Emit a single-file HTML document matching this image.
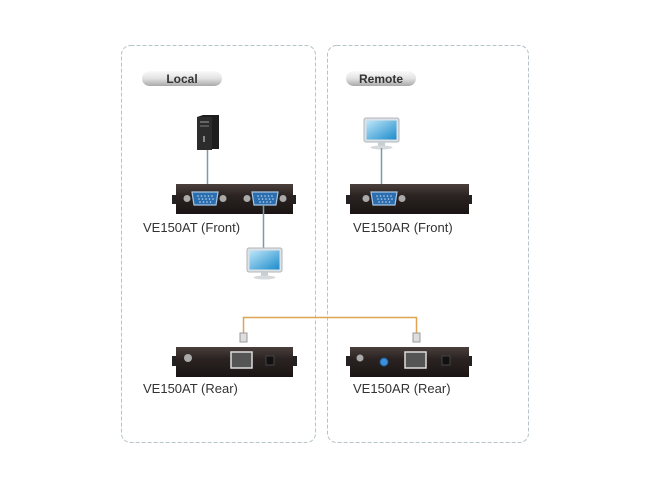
<!DOCTYPE html>
<html><head><style>
html,body{margin:0;padding:0;background:#fff;}
svg{display:block}
text{font-family:"Liberation Sans",sans-serif;}
</style></head><body>
<svg width="650" height="489" viewBox="0 0 650 489" xmlns="http://www.w3.org/2000/svg">
<defs>
<linearGradient id="pill" x1="0" y1="0" x2="0" y2="1"><stop offset="0" stop-color="#fafafa"/><stop offset="0.5" stop-color="#e2e2e2"/><stop offset="1" stop-color="#a8a8a8"/></linearGradient>
<linearGradient id="box" x1="0" y1="0" x2="0" y2="1"><stop offset="0" stop-color="#4a3f3b"/><stop offset="0.4" stop-color="#2a2322"/><stop offset="1" stop-color="#1a1514"/></linearGradient>
<linearGradient id="scr" x1="0" y1="0" x2="1" y2="1"><stop offset="0" stop-color="#bfe6f8"/><stop offset="1" stop-color="#1c8ccc"/></linearGradient>
<g id="mon"><rect x="0" y="0" width="35" height="24" rx="2" fill="#dde2e6" stroke="#b0b6bb"/><rect x="2.5" y="2.5" width="30" height="19" fill="url(#scr)"/><rect x="14" y="24" width="7" height="4" fill="#c8cdd1"/><ellipse cx="17.5" cy="29.5" rx="11" ry="2" fill="#d6dadd"/></g>
<g id="vga"><ellipse cx="0" cy="6.5" rx="3.5" ry="3.5" fill="#aaa"/><ellipse cx="36" cy="6.5" rx="3.5" ry="3.5" fill="#aaa"/><path d="M5 0 H31 L29 13 H7 Z" fill="#2b6eb0" stroke="#a7c4e0" stroke-width="1.2"/><g fill="#bcd4ea"><circle cx="11" cy="4" r=".8"/><circle cx="14.5" cy="4" r=".8"/><circle cx="18" cy="4" r=".8"/><circle cx="21.5" cy="4" r=".8"/><circle cx="25" cy="4" r=".8"/><circle cx="12" cy="7" r=".8"/><circle cx="15.5" cy="7" r=".8"/><circle cx="19" cy="7" r=".8"/><circle cx="22.5" cy="7" r=".8"/><circle cx="26" cy="7" r=".8"/><circle cx="13" cy="10" r=".8"/><circle cx="16.5" cy="10" r=".8"/><circle cx="20" cy="10" r=".8"/><circle cx="23.5" cy="10" r=".8"/></g></g>
</defs>
<rect x="121.5" y="45.5" width="194" height="397" rx="9" fill="none" stroke="#b5c4c8" stroke-dasharray="4,2"/>
<rect x="327.5" y="45.5" width="201" height="397" rx="9" fill="none" stroke="#b5c4c8" stroke-dasharray="4,2"/>
<rect x="142" y="71" width="80" height="15" rx="7.5" fill="url(#pill)"/>
<text x="182" y="83" font-size="12" font-weight="bold" text-anchor="middle" fill="#333">Local</text>
<rect x="346" y="71" width="70" height="15" rx="7.5" fill="url(#pill)"/>
<text x="381" y="83" font-size="12" font-weight="bold" text-anchor="middle" fill="#333">Remote</text>
<!-- PC -->
<path d="M197 117 L203 115 H219 V149 H197 Z" fill="#1e1e1e"/><rect x="197" y="117" width="15" height="33" fill="#2c2c2c"/><rect x="200" y="121" width="9" height="2" fill="#666"/><rect x="200" y="125" width="9" height="2" fill="#555"/><rect x="203" y="136" width="2" height="6" fill="#888"/>
<line x1="207.5" y1="150" x2="207.5" y2="190" stroke="#7a9aa6" stroke-width="1.5"/>
<!-- front left -->
<rect x="172" y="195" width="5" height="9" fill="#222"/><rect x="291" y="195" width="5" height="9" fill="#222"/>
<rect x="176" y="184" width="117" height="30" fill="url(#box)"/>
<use href="#vga" x="187" y="192"/><use href="#vga" x="247" y="192"/>
<line x1="263.5" y1="205" x2="263.5" y2="248" stroke="#7a9aa6" stroke-width="1.5"/>
<use href="#mon" x="247" y="248"/>
<text x="143" y="232" font-size="13" fill="#333">VE150AT (Front)</text>
<!-- right front -->
<use href="#mon" x="364" y="118"/>
<line x1="381.5" y1="148" x2="381.5" y2="194" stroke="#7a9aa6" stroke-width="1.5"/>
<rect x="346" y="195" width="5" height="9" fill="#222"/><rect x="467" y="195" width="5" height="9" fill="#222"/>
<rect x="350" y="184" width="119" height="30" fill="url(#box)"/>
<use href="#vga" x="366" y="192"/>
<text x="353" y="232" font-size="13" fill="#333">VE150AR (Front)</text>
<!-- cable -->
<path d="M243.5 334 V317.5 H416.5 V334" fill="none" stroke="#e0a352" stroke-width="1.5"/>
<rect x="240" y="333" width="7" height="9" fill="#ddd" stroke="#999"/>
<rect x="413" y="333" width="7" height="9" fill="#ddd" stroke="#999"/>
<!-- rear left -->
<rect x="172" y="356" width="5" height="10" fill="#222"/><rect x="292" y="356" width="5" height="10" fill="#222"/>
<rect x="176" y="347" width="117" height="30" fill="url(#box)"/>
<circle cx="188" cy="358" r="4" fill="#aaa"/>
<rect x="231" y="352" width="21" height="16" fill="#555" stroke="#ddd" stroke-width="1.5"/>
<rect x="266" y="356" width="8" height="9" fill="#111" stroke="#444"/>
<text x="143" y="393" font-size="13" fill="#333">VE150AT (Rear)</text>
<!-- rear right -->
<rect x="346" y="356" width="5" height="10" fill="#222"/><rect x="467" y="356" width="5" height="10" fill="#222"/>
<rect x="350" y="347" width="119" height="30" fill="url(#box)"/>
<circle cx="360" cy="358" r="3.5" fill="#aaa"/>
<circle cx="384" cy="362" r="4" fill="#3c8fd8" stroke="#1a5a9a"/>
<rect x="405" y="352" width="21" height="16" fill="#555" stroke="#ddd" stroke-width="1.5"/>
<rect x="442" y="356" width="8" height="9" fill="#111" stroke="#444"/>
<text x="353" y="393" font-size="13" fill="#333">VE150AR (Rear)</text>
</svg>
</body></html>
